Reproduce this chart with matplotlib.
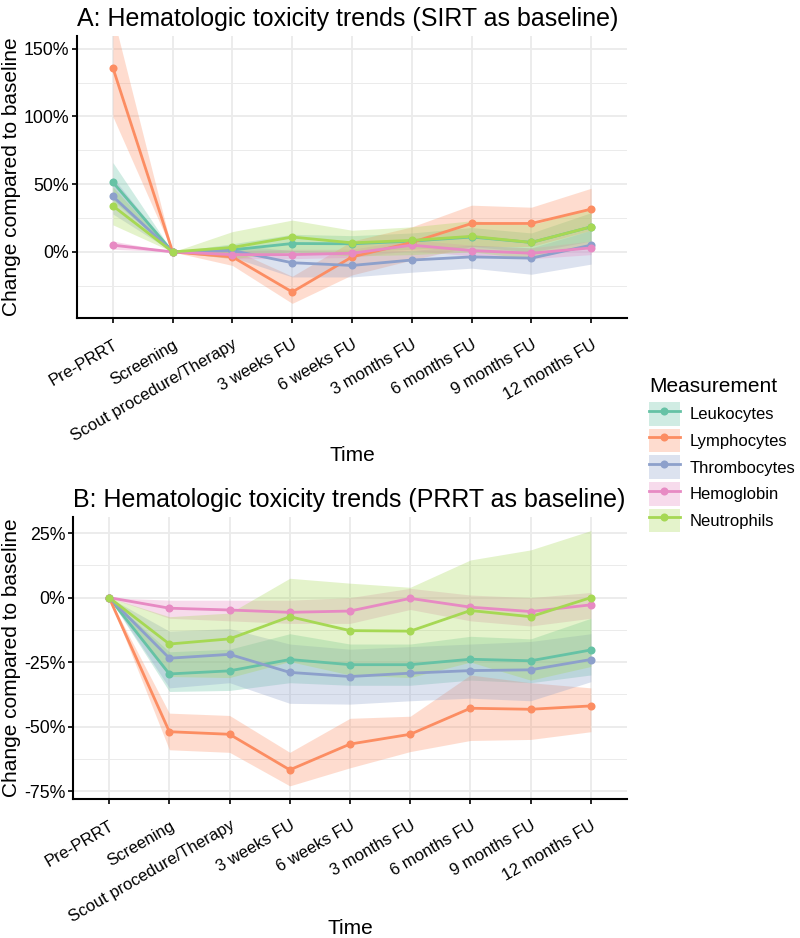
import numpy as np
import matplotlib
matplotlib.use("Agg")
import matplotlib.pyplot as plt
from matplotlib.lines import Line2D
from matplotlib.patches import Patch
from matplotlib.ticker import FuncFormatter, MultipleLocator

plt.rcParams['font.family'] = ['Liberation Sans', 'DejaVu Sans']

time_labels = ["Pre-PRRT", "Screening", "Scout procedure/Therapy", "3 weeks FU",
               "6 weeks FU", "3 months FU", "6 months FU", "9 months FU", "12 months FU"]
measures = ["Leukocytes", "Lymphocytes", "Thrombocytes", "Hemoglobin", "Neutrophils"]
colors = ["#66C2A5", "#FC8D62", "#8DA0CB", "#E78AC3", "#A6D854"]

# Panel A: SIRT as baseline (mean, lower, upper in %)
a_mean = {
    "Leukocytes":   [51.5, 0, 1.5, 6.2, 6.0, 8.0, 11.0, 7.0, 18.5],
    "Lymphocytes":  [136, 0, -3.7, -29.6, -3.7, 7.0, 21.0, 21.0, 31.6],
    "Thrombocytes": [41, 0, 1.0, -8.0, -10.0, -6.0, -3.7, -4.6, 5.0],
    "Hemoglobin":   [5, 0, -2.0, -2.0, -1.0, 5.0, 1.0, -1.0, 3.0],
    "Neutrophils":  [34, 0, 3.3, 11.0, 6.7, 8.5, 11.5, 7.0, 18.5],
}
a_low = {
    "Leukocytes":   [38, 0, -3, 0, 0, 2, 4, 0, 8],
    "Lymphocytes":  [100, 0, -10, -38, -17, -6, 4, 4, 16],
    "Thrombocytes": [28, 0, -4, -18.5, -18.5, -15, -12, -16.5, -9],
    "Hemoglobin":   [2, 0, -5, -5, -4, 1, -3, -5, -2],
    "Neutrophils":  [20, 0, -5, 0, -3, -2, 0, -5, 5],
}
a_high = {
    "Leukocytes":   [66, 0, 6, 13, 12, 14, 18, 14, 29],
    "Lymphocytes":  [175, 0, 2, -18, 8, 18.5, 34.5, 33, 47],
    "Thrombocytes": [55, 0, 5, 1, 0, 1, 5, 3, 16],
    "Hemoglobin":   [8, 0, 1, 2, 2, 9, 5, 3, 8],
    "Neutrophils":  [48, 0, 15, 23.5, 16, 18.5, 23, 20, 32],
}

# Panel B: PRRT as baseline
b_mean = {
    "Leukocytes":   [0, -29.6, -28.4, -24, -26, -26, -23.9, -24.5, -20.3],
    "Lymphocytes":  [0, -52, -53, -66.8, -56.8, -53, -42.9, -43.3, -42],
    "Thrombocytes": [0, -23.5, -22, -29, -30.6, -29.3, -28.3, -28, -24],
    "Hemoglobin":   [0, -4.1, -4.8, -5.7, -5.2, -0.3, -3.7, -5.4, -2.8],
    "Neutrophils":  [0, -18, -16, -7.4, -12.8, -13, -5, -7.4, 0],
}
b_low = {
    "Leukocytes":   [0, -36.4, -36, -33, -34, -34, -32, -33, -30],
    "Lymphocytes":  [0, -59, -60, -73, -66, -59.7, -55.4, -55, -52],
    "Thrombocytes": [0, -35, -33, -41, -41.3, -40, -39, -40, -32.6],
    "Hemoglobin":   [0, -8, -9, -10, -10, -4.6, -9, -11, -8],
    "Neutrophils":  [0, -30.6, -31, -24.8, -30, -31, -25, -32, -26.7],
}
b_high = {
    "Leukocytes":   [0, -21, -20, -14, -18, -18, -15, -16, -8],
    "Lymphocytes":  [0, -44.8, -45.7, -60, -46.8, -46, -30, -33, -35],
    "Thrombocytes": [0, -13, -12, -18, -20, -19, -18, -17, -14],
    "Hemoglobin":   [0, -1, -1, -1, 0, 3.6, 1, 0, 2],
    "Neutrophils":  [0, -7.4, -6, 7.5, 5.6, 4, 14.6, 18.5, 26],
}

pct = FuncFormatter(lambda v, p: "%d%%" % round(v))


def draw_panel(ax, mean, low, high, title, ylim, major, minor, xpad):
    x = np.arange(len(time_labels))
    for m, c in zip(measures, colors):
        ax.fill_between(x, low[m], high[m], color=c, alpha=0.3, lw=0, zorder=2)
    for m, c in zip(measures, colors):
        ax.plot(x, mean[m], color=c, lw=2, zorder=3)
    for m, c in zip(measures, colors):
        ax.plot(x, mean[m], 'o', color=c, ms=5.8, mec='none', zorder=4)
    ax.set_xlim(-0.6, 8.6)
    ax.set_ylim(*ylim)
    ax.yaxis.set_major_locator(MultipleLocator(major))
    ax.yaxis.set_minor_locator(MultipleLocator(minor))
    ax.yaxis.set_major_formatter(pct)
    ax.set_xticks(x)
    ax.set_xticklabels(time_labels, rotation=30, ha='right', rotation_mode='anchor',
                       fontsize=12)
    ax.tick_params(axis='y', labelsize=12.8, length=3.5, width=1.2, which='major', pad=2)
    ax.tick_params(axis='x', length=3.5, width=1.2, pad=10)
    ax.tick_params(axis='y', which='minor', length=0)
    ax.grid(True, which='major', color='#EBEBEB', lw=1.3, zorder=0)
    ax.grid(True, which='minor', axis='y', color='#EBEBEB', lw=0.7, zorder=0)
    ax.set_axisbelow(True)
    for s in ['top', 'right']:
        ax.spines[s].set_visible(False)
    for s in ['left', 'bottom']:
        ax.spines[s].set_linewidth(1.5)
    ax.set_title(title, loc='left', fontsize=18, pad=7)
    ax.set_xlabel("Time", fontsize=15, labelpad=xpad)
    ax.set_ylabel("Change compared to baseline", fontsize=15, labelpad=2)


fig = plt.figure(figsize=(8, 9.38), dpi=100)
ax1 = fig.add_axes([0.09625, 0.6607, 0.6875, 0.3010])
ax2 = fig.add_axes([0.09125, 0.1479, 0.6925, 0.3013])

draw_panel(ax1, a_mean, a_low, a_high, "A: Hematologic toxicity trends (SIRT as baseline)",
           (-49, 159.5), 50, 25, 1)
draw_panel(ax2, b_mean, b_low, b_high, "B: Hematologic toxicity trends (PRRT as baseline)",
           (-78.2, 31.4), 25, 12.5, -4.5)

handles = []
for m, c in zip(measures, colors):
    handles.append((Patch(facecolor=c, alpha=0.3, edgecolor='none'),
                    Line2D([], [], color=c, lw=2, marker='o', ms=5.8, mec='none')))
leg = fig.legend(handles, measures, loc='upper left', bbox_to_anchor=(0.811, 0.598),
                 title="Measurement", frameon=False, fontsize=12, title_fontsize=15,
                 handlelength=1.86, handleheight=1.8, labelspacing=0.18,
                 handletextpad=0.6, borderpad=0, borderaxespad=0)
leg._legend_box.align = "left"
leg._legend_box.sep = 4.5

fig.savefig("out.png", dpi=100)
